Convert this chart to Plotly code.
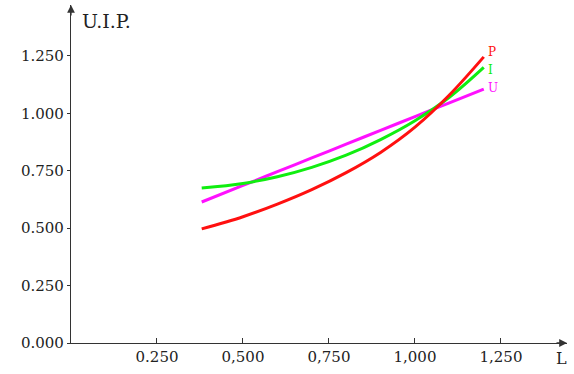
import plotly.graph_objects as go

L = [0.38, 0.5, 0.6, 0.7, 0.8, 0.9, 1.0, 1.1, 1.2]
P = [0.497, 0.55, 0.605, 0.668, 0.742, 0.83, 0.94, 1.08, 1.246]
I = [0.675, 0.695, 0.724, 0.765, 0.818, 0.886, 0.968, 1.07, 1.2]
U = [0.614, 0.686, 0.746, 0.806, 0.866, 0.926, 0.986, 1.046, 1.106]

x_tickvals = [0.25, 0.5, 0.75, 1.0, 1.25]
x_ticktext = ["0.250", "0,500", "0,750", "1,000", "1,250"]
y_tickvals = [0.0, 0.25, 0.5, 0.75, 1.0, 1.25]
y_ticktext = ["0.000", "0.250", "0.500", "0.750", "1.000", "1.250"]

series = [("U", U, "#ff10ff"), ("I", I, "#10ee10"), ("P", P, "#ff1010")]
label_offsets = {"P": 0.02, "I": -0.012, "U": 0.005}

FONT = "DejaVu Serif"
AX = "#333333"
XMAX = 1.442
YMAX = 1.472

fig = go.Figure()
for name, vals, col in series:
    fig.add_trace(go.Scatter(x=L, y=vals, mode="lines", name=name,
                             line=dict(color=col, width=3, shape="spline", smoothing=1.0),
                             showlegend=False, hoverinfo="skip", cliponaxis=False))
    fig.add_annotation(x=L[-1], y=vals[-1] + label_offsets[name], text=name, showarrow=False,
                       xanchor="left", xshift=2, font=dict(family=FONT, size=12, color=col))

# arrowheads at axis ends
fig.add_annotation(x=1, y=0, xref="paper", yref="paper", ax=-12, ay=0, text="",
                   showarrow=True, arrowhead=2, arrowsize=1.2, arrowwidth=1.3, arrowcolor=AX)
fig.add_annotation(x=0, y=1, xref="paper", yref="paper", ax=0, ay=12, text="",
                   showarrow=True, arrowhead=2, arrowsize=1.2, arrowwidth=1.3, arrowcolor=AX)
fig.add_annotation(x=0, y=1, xref="paper", yref="paper", text="U.I.P.", showarrow=False,
                   xanchor="left", yanchor="top", xshift=9, yshift=-3,
                   font=dict(family=FONT, size=19, color="#222222"))
fig.add_annotation(x=1, y=0, xref="paper", yref="paper", text="L", showarrow=False,
                   xanchor="center", yanchor="top", xshift=-6, yshift=-4,
                   font=dict(family=FONT, size=16, color="#222222"))

fig.update_xaxes(range=[0, XMAX], showgrid=False, zeroline=False, showline=True,
                 linecolor=AX, linewidth=1.3, automargin=False,
                 tickvals=x_tickvals, ticktext=x_ticktext, ticks="inside", ticklen=5,
                 tickcolor=AX, tickwidth=1.2,
                 tickfont=dict(family=FONT, size=15, color="#222222"))
fig.update_yaxes(range=[0, YMAX], showgrid=False, zeroline=False, showline=True,
                 linecolor=AX, linewidth=1.3, automargin=False,
                 tickvals=y_tickvals, ticktext=y_ticktext, ticks="outside", ticklen=3,
                 tickcolor=AX, tickwidth=1.2,
                 tickfont=dict(family=FONT, size=15, color="#222222"))

fig.update_layout(width=574, height=374, margin=dict(l=71, r=7, t=5, b=31),
                  plot_bgcolor="white", paper_bgcolor="white")

fig.write_html("out.html", config={"displayModeBar": False},
               post_script="document.body.style.margin='0';document.body.style.overflow='hidden';")
